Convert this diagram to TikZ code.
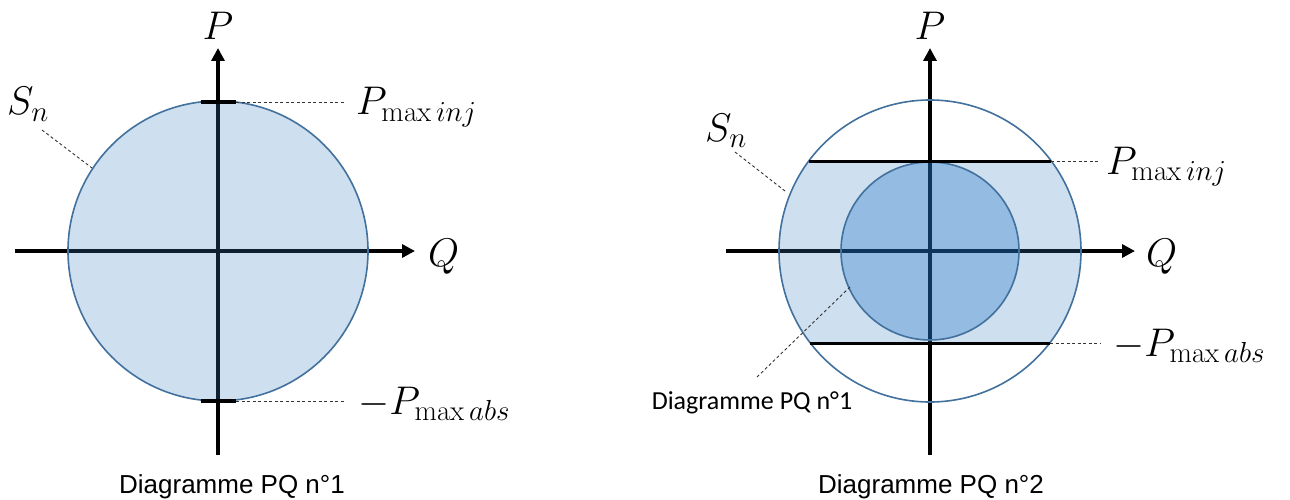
\RequirePackage{fix-cm}
\documentclass[tikz,border=0pt]{standalone}
\usepackage[no-math]{fontspec}
\newfontfamily\capfont{Liberation Sans}
\newfontfamily\calfont{Carlito}
\usetikzlibrary{arrows.meta}
\DeclareMathSizes{40}{40}{29}{20}
\definecolor{ringc}{RGB}{65,113,156}
\definecolor{fillc}{RGB}{63,131,199}
\definecolor{innerc}{RGB}{14,107,194}
\tikzset{
  axisline/.style={line width=3.5pt, -{Triangle[length=13pt,width=13pt]}},
  tickline/.style={line width=3.5pt},
  bandline/.style={line width=3pt},
  leader/.style={line width=0.9pt, dash pattern=on 3pt off 2.5pt, black!80},
  ring/.style={draw=ringc, line width=1.6pt},
  mlabel/.style={inner sep=0pt, font=\fontsize{40}{44}\selectfont},
  captext/.style={inner sep=0pt, font=\capfont\fontsize{26}{30}\selectfont},
  smalltext/.style={inner sep=0pt, font=\calfont\fontsize{26}{30}\selectfont},
}
\begin{document}
\begin{tikzpicture}[x=1pt,y=-1pt]
\useasboundingbox[fill=white] (0,0) rectangle (1290,500);

% ---------------- left diagram ----------------
\coordinate (Lc) at (218,251);
\coordinate (LxA) at (15,251);  \coordinate (LxB) at (415,251);
\coordinate (LyA) at (218,455); \coordinate (LyB) at (218,48);
\draw[axisline] (LxA) -- (LxB);
\draw[axisline] (LyA) -- (LyB);
\fill[fillc, fill opacity=0.25] (Lc) circle[radius=150];
\draw[ring] (Lc) circle[radius=150];
\coordinate (LtA) at (201,102); \coordinate (LtB) at (236,102);
\coordinate (LbA) at (201,401); \coordinate (LbB) at (236,401);
\draw[tickline] (LtA) -- (LtB);
\draw[tickline] (LbA) -- (LbB);
\coordinate (LtE) at (345,102); \coordinate (LbE) at (345,401);
\draw[leader] (LtB) -- (LtE);
\draw[leader] (LbB) -- (LbE);
\coordinate (LsA) at (42,130); \coordinate (LsB) at (92,168);
\draw[leader] (LsA) -- (LsB);

\node[mlabel, anchor=base] (LP) at (218,40) {$P$};
\node[mlabel, anchor=base west] (LQ) at (428,266) {$Q$};
\node[mlabel, anchor=base west] (LS) at (7,115) {$S_n$};
\node[mlabel, anchor=base west] (LPi) at (356,115) {$P_{\mathrm{max}\,inj}$};
\node[mlabel, anchor=base west] (LPa) at (358,414) {$-P_{\mathrm{max}\,abs}$};
\node[captext] (Lcap) at (232,487) {Diagramme PQ n°1};

% ---------------- right diagram ----------------
\coordinate (Rc) at (930,251);
\coordinate (RxA) at (726,251);  \coordinate (RxB) at (1135,251);
\coordinate (RyA) at (930,455);  \coordinate (RyB) at (930,48);
\draw[axisline] (RxA) -- (RxB);
\draw[axisline] (RyA) -- (RyB);
\begin{scope}
  \clip (760,161) rectangle (1100,343);
  \fill[fillc, fill opacity=0.25] (Rc) circle[radius=151];
\end{scope}
\fill[innerc, fill opacity=0.3] (Rc) circle[radius=89];
\draw[ring] (Rc) circle[radius=89];
\draw[ring] (Rc) circle[radius=151];
\coordinate (RtA) at (809,161); \coordinate (RtB) at (1051,161);
\coordinate (RbA) at (810,343); \coordinate (RbB) at (1050,343);
\draw[bandline] (RtA) -- (RtB);
\draw[bandline] (RbA) -- (RbB);
\coordinate (RtE) at (1100,161); \coordinate (RbE) at (1100,343);
\draw[leader] (RtB) -- (RtE);
\draw[leader] (RbB) -- (RbE);
\coordinate (RsA) at (735,152); \coordinate (RsB) at (785,191);
\draw[leader] (RsA) -- (RsB);
\coordinate (RdA) at (757,377); \coordinate (RdB) at (850,287);
\draw[leader] (RdA) -- (RdB);

\node[mlabel, anchor=base] (RP) at (930,40) {$P$};
\node[mlabel, anchor=base west] (RQ) at (1146,266) {$Q$};
\node[mlabel, anchor=base west] (RS) at (705,142) {$S_n$};
\node[mlabel, anchor=base west] (RPi) at (1106,174) {$P_{\mathrm{max}\,inj}$};
\node[mlabel, anchor=base west] (RPa) at (1113,356) {$-P_{\mathrm{max}\,abs}$};
\node[smalltext] (Rsmall) at (752,403) {Diagramme PQ n°1};
\node[captext] (Rcap) at (931,487) {Diagramme PQ n°2};
\end{tikzpicture}
\end{document}
